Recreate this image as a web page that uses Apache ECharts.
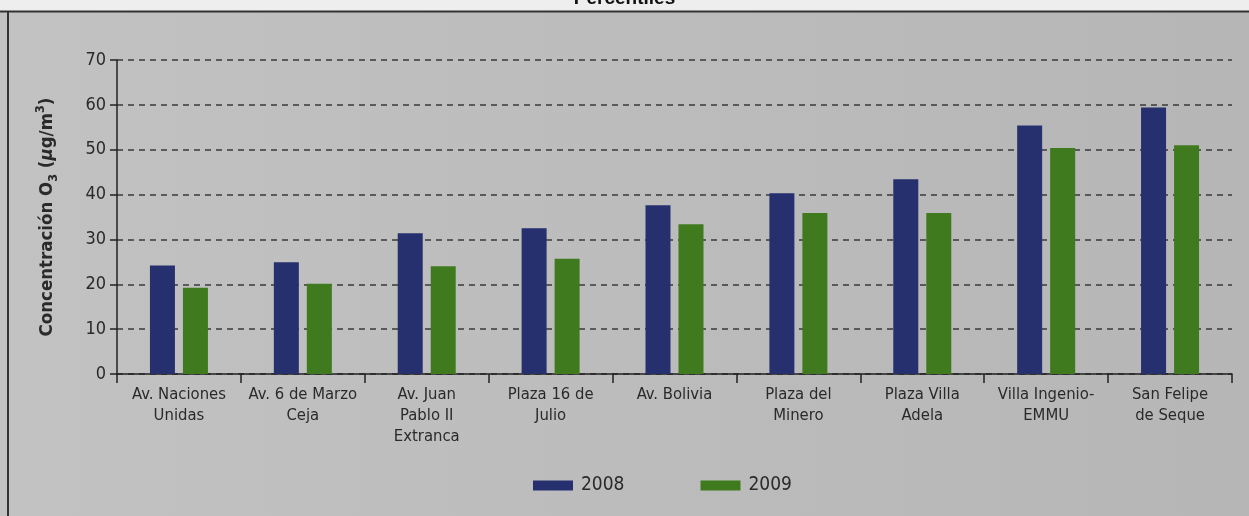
<!DOCTYPE html>
<html>
<head>
<meta charset="utf-8">
<title>Concentración O3</title>
<script src="https://cdn.jsdelivr.net/npm/echarts@6/dist/echarts.min.js"></script>
<style>
  html, body { margin: 0; padding: 0; background: #f2f2f2; }
  #chart { width: 1249px; height: 516px; }
</style>
</head>
<body>
<div id="chart"></div>
<script>
// Monitoring stations (x-axis categories)
const stations = [
  'Av. Naciones\nUnidas',
  'Av. 6 de Marzo\nCeja',
  'Av. Juan\nPablo II\nExtranca',
  'Plaza 16 de\nJulio',
  'Av. Bolivia',
  'Plaza del\nMinero',
  'Plaza Villa\nAdela',
  'Villa Ingenio-\nEMMU',
  'San Felipe\nde Seque'
];
// O3 concentration per station, µg/m3
const values2008 = [24.2, 24.9, 31.4, 32.5, 37.6, 40.3, 43.4, 55.4, 59.4];
const values2009 = [19.2, 20.1, 24.0, 25.7, 33.4, 35.9, 35.9, 50.4, 51.0];
const seriesNames = ['2008', '2009'];
const yTicks = [0, 10, 20, 30, 40, 50, 60, 70];

const FONT = '"Liberation Sans Narrow", "DejaVu Sans Condensed", "Roboto", sans-serif';
const TEXT = '#2a2a2a';
const NAVY = '#27306e';
const GREEN = '#3f7b1e';

const chart = echarts.init(document.getElementById('chart'), null, { renderer: 'canvas' });

chart.setOption({
  animation: false,
  backgroundColor: {
    type: 'linear', x: 0, y: 0, x2: 1, y2: 0,
    colorStops: [
      { offset: 0, color: '#c2c2c2' },
      { offset: 0.5, color: '#bcbcbc' },
      { offset: 1, color: '#b6b6b6' }
    ]
  },
  graphic: [
    // light strip above the panel frame
    { type: 'rect', left: 0, top: 0, shape: { width: 1249, height: 11 }, style: { fill: '#eeeeee' }, z: -10 },
    // partially visible heading at the very top
    { type: 'text', left: 'center', top: -11, style: { text: 'Percentiles', font: 'bold 19px "Liberation Sans", sans-serif', fill: '#111' }, z: -5 },
    // panel frame
    { type: 'line', shape: { x1: 0, y1: 11.5, x2: 1249, y2: 11.5 }, style: { stroke: '#333', lineWidth: 2 }, z: 5 },
    { type: 'line', shape: { x1: 8, y1: 11, x2: 8, y2: 516 }, style: { stroke: '#333', lineWidth: 2 }, z: 5 }
  ],
  grid: { left: 117, right: 17, top: 60, bottom: 142, containLabel: false },
  legend: {
    data: seriesNames,
    left: 528,
    top: 471,
    itemWidth: 40,
    itemHeight: 10,
    itemGap: 76,
    icon: 'rect',
    textStyle: { fontFamily: FONT, fontSize: 19, color: TEXT, padding: [0, 0, 0, 3] }
  },
  xAxis: {
    type: 'category',
    data: stations,
    axisLine: { lineStyle: { color: '#222', width: 1.5 } },
    axisTick: { show: true, length: 9, alignWithLabel: false, lineStyle: { color: '#222', width: 1.5 } },
    axisLabel: { interval: 0, margin: 10, fontFamily: FONT, fontSize: 16.5, lineHeight: 21, color: TEXT },
    splitLine: { show: false }
  },
  yAxis: {
    type: 'value',
    min: yTicks[0],
    max: yTicks[yTicks.length - 1],
    interval: 10,
    name: '{a|Concentración O}{sub|3}{a| (}{mu|μ}{a|g/m}{sup|3}{a|)}',
    nameLocation: 'middle',
    nameGap: 57,
    nameRotate: 90,
    nameTextStyle: {
      rich: {
        a: { fontFamily: FONT, fontWeight: 'bold', fontSize: 18.5, color: TEXT, lineHeight: 26 },
        mu: { fontFamily: FONT, fontWeight: 'bold', fontStyle: 'italic', fontSize: 18.5, color: TEXT, lineHeight: 26 },
        sub: { fontFamily: FONT, fontWeight: 'bold', fontSize: 12.5, color: TEXT, verticalAlign: 'bottom', lineHeight: 26, padding: [8, 0, 0, 0] },
        sup: { fontFamily: FONT, fontWeight: 'bold', fontSize: 12.5, color: TEXT, verticalAlign: 'top', lineHeight: 26, padding: [0, 0, 8, 0] }
      }
    },
    axisLine: { show: true, lineStyle: { color: '#222', width: 1.5 } },
    axisTick: { show: true, length: 7, lineStyle: { color: '#222', width: 1.5 } },
    axisLabel: { margin: 11, fontFamily: FONT, fontSize: 18, color: TEXT },
    splitLine: { show: true, lineStyle: { color: '#3a3a3a', width: 1.5, type: [6, 5] } }
  },
  series: [
    {
      name: seriesNames[0],
      type: 'bar',
      data: values2008,
      barWidth: 25,
      barGap: '32%',
      itemStyle: { color: NAVY }
    },
    {
      name: seriesNames[1],
      type: 'bar',
      data: values2009,
      barWidth: 25,
      itemStyle: { color: GREEN }
    }
  ]
});
</script>
</body>
</html>
